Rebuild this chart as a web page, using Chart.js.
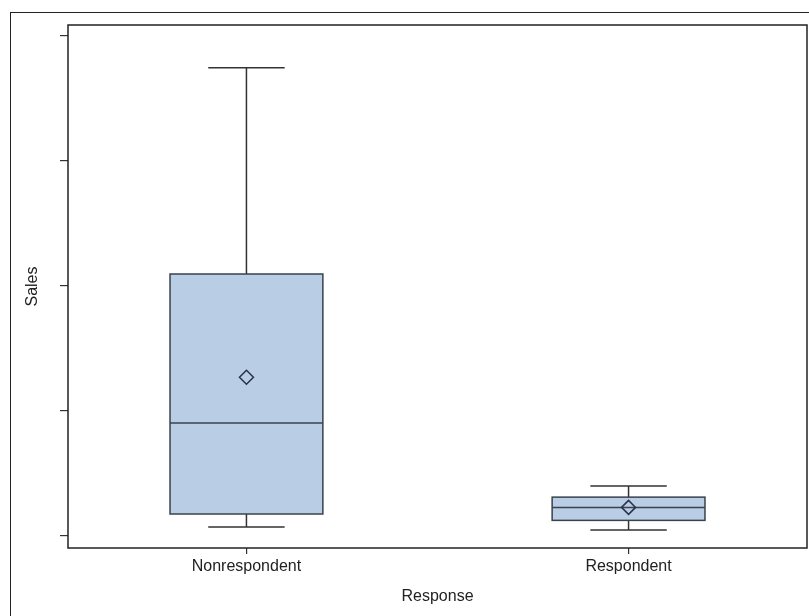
<!DOCTYPE html>
<html><head><meta charset="utf-8">
<script src="https://cdn.jsdelivr.net/npm/chart.js@4"></script>
<style>
html,body{margin:0;padding:0;background:#fff;}
#wrap{position:relative;width:809px;height:616px;overflow:hidden;background:#fff;}
#frame{position:absolute;left:10px;top:12px;width:900px;height:700px;border:1px solid #222;box-sizing:border-box;}
canvas{position:absolute;left:0;top:0;}
</style></head><body>
<div id="wrap"><div id="frame"></div><canvas id="c" width="809" height="616"></canvas></div>
<script>
const categories = ['Nonrespondent', 'Respondent'];
const whiskerLow  = [0.072, 0.048];
const q1          = [0.176, 0.125];
const median      = [0.904, 0.229];
const q3          = [2.096, 0.311];
const whiskerHigh = [3.747, 0.400];
const mean        = [1.270, 0.229];
const yTicks      = [0, 1, 2, 3, 4];

const FONT = 'Liberation Sans, Arial, sans-serif';
const boxFill = '#B9CDE5';
const boxLine = '#3A424C';
const lineCol = '#333333';

const boxPlugin = {
  id: 'boxPlot',
  beforeDatasetsDraw(chart) {
    const {ctx, scales: {x, y}} = chart;
    ctx.save();
    categories.forEach((c, i) => {
      const v = i + 1;
      const xc = x.getPixelForValue(v);
      const hb = x.getPixelForValue(v + 0.2) - xc;
      const hc = x.getPixelForValue(v + 0.1) - xc;
      const pWL = y.getPixelForValue(whiskerLow[i]);
      const pQ1 = y.getPixelForValue(q1[i]);
      const pMd = y.getPixelForValue(median[i]);
      const pQ3 = y.getPixelForValue(q3[i]);
      const pWH = y.getPixelForValue(whiskerHigh[i]);
      ctx.strokeStyle = lineCol;
      ctx.lineWidth = 1.5;
      ctx.beginPath();
      ctx.moveTo(xc, pWH); ctx.lineTo(xc, pQ3);
      ctx.moveTo(xc, pQ1); ctx.lineTo(xc, pWL);
      ctx.moveTo(xc - hc, pWH); ctx.lineTo(xc + hc, pWH);
      ctx.moveTo(xc - hc, pWL); ctx.lineTo(xc + hc, pWL);
      ctx.stroke();
      ctx.fillStyle = boxFill;
      ctx.fillRect(xc - hb, pQ3, 2 * hb, pQ1 - pQ3);
      ctx.strokeStyle = boxLine;
      ctx.lineWidth = 1.5;
      ctx.strokeRect(xc - hb, pQ3, 2 * hb, pQ1 - pQ3);
      ctx.beginPath();
      ctx.moveTo(xc - hb, pMd); ctx.lineTo(xc + hb, pMd);
      ctx.stroke();
    });
    ctx.restore();
  },
  afterDraw(chart) {
    const {ctx, chartArea: a} = chart;
    ctx.save();
    ctx.strokeStyle = '#222';
    ctx.lineWidth = 1.5;
    ctx.strokeRect(a.left, a.top, a.right - a.left, a.bottom - a.top);
    ctx.restore();
  }
};

new Chart(document.getElementById('c'), {
  type: 'scatter',
  data: {
    datasets: [{
      label: 'Mean',
      data: mean.map((m, i) => ({x: i + 1, y: m})),
      pointStyle: 'rectRot',
      pointRadius: 7,
      pointHoverRadius: 7,
      pointBorderWidth: 1.5,
      pointBorderColor: '#28324A',
      pointBackgroundColor: 'rgba(0,0,0,0)'
    }]
  },
  options: {
    responsive: false,
    animation: false,
    devicePixelRatio: 1,
    layout: {autoPadding: false, padding: {top: 25, right: 2, left: 0, bottom: 0}},
    plugins: {legend: {display: false}, tooltip: {enabled: false}},
    scales: {
      x: {
        type: 'linear',
        min: 0.533, max: 2.467,
        afterBuildTicks(s) { s.ticks = categories.map((c, i) => ({value: i + 1})); },
        afterFit(s) { s.height = 68; },
        ticks: {
          callback: v => categories[v - 1] || '',
          font: {family: FONT, size: 16},
          color: '#222',
          padding: 3,
          maxRotation: 0
        },
        grid: {drawOnChartArea: false, tickLength: 6, color: '#333', lineWidth: 1.2},
        border: {display: false},
        title: {display: true, text: 'Response', font: {family: FONT, size: 16}, color: '#222', padding: {top: 0, bottom: 10}}
      },
      y: {
        min: -0.096, max: 4.088,
        afterBuildTicks(s) { s.ticks = yTicks.map(v => ({value: v})); },
        afterFit(s) { s.width = 68; },
        ticks: {callback: () => '', font: {family: FONT, size: 16}},
        grid: {drawOnChartArea: false, tickLength: 8, color: '#333', lineWidth: 1.2},
        border: {display: false},
        title: {display: true, text: 'Sales', font: {family: FONT, size: 16}, color: '#222', padding: {top: 23, bottom: 0}}
      }
    }
  },
  plugins: [boxPlugin]
});
</script>
</body></html>
